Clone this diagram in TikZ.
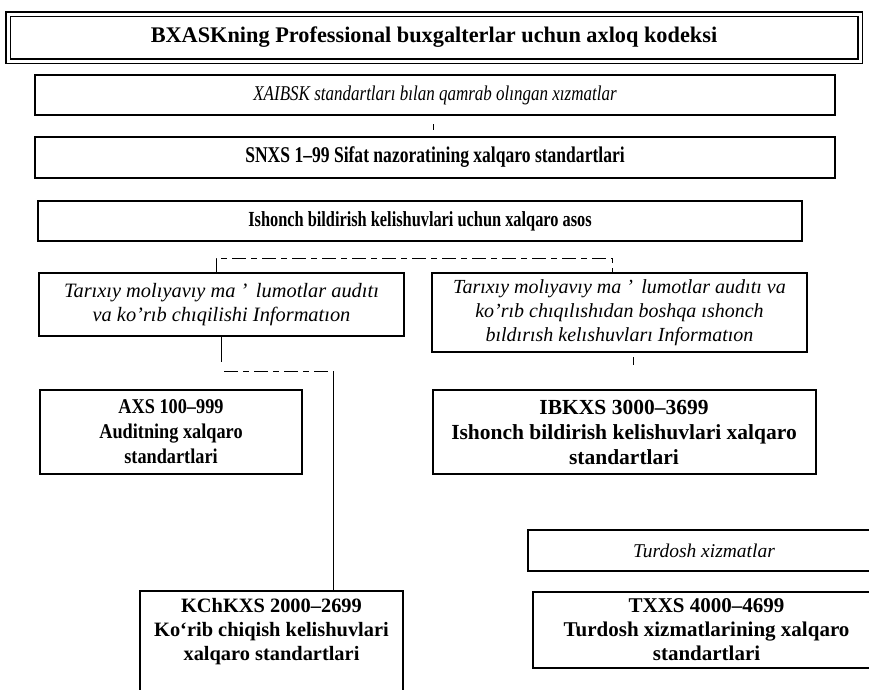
\documentclass[tikz,border=0pt]{standalone}
\usepackage{fontspec}
\setmainfont{Liberation Serif}
\newfontfamily\ftwo{Liberation Serif}[FakeStretch=0.81]
\newfontfamily\fthree{Liberation Serif}[FakeStretch=0.78]
\newfontfamily\ffour{Liberation Serif}[FakeStretch=0.76]
\newfontfamily\faxs{Liberation Serif}[FakeStretch=0.87]
\begin{document}
\begin{tikzpicture}[x=1pt,y=-1pt,
  box/.style={draw, line width=2pt, inner sep=0pt, align=center, rectangle},
  conn/.style={line width=0.9pt},
  faint/.style={line width=0.8pt, dash pattern=on 14pt off 5pt on 6pt off 5pt}]
\useasboundingbox (0,0) rectangle (869,689);

\node[box, double, double distance=3pt, line width=1.4pt, minimum width=852pt, minimum height=47pt,
  font=\fontsize{22.3}{26}\selectfont\bfseries] (b1) at (434,37.5)
  {BXASKning Professional buxgalterlar uchun axloq kodeksi};
\node[box, minimum width=800pt, minimum height=40pt,
  font=\fontsize{21}{24}\ftwo\itshape] (b2) at (435,95)
  {XAIBSK standartları bılan qamrab olıngan xızmatlar};
\node[box, minimum width=800pt, minimum height=41pt,
  font=\fontsize{22.5}{24}\fthree\bfseries] (b3) at (435,157.5)
  {SNXS 1–99 Sifat nazoratining xalqaro standartlari};
\node[box, minimum width=764pt, minimum height=40pt,
  font=\fontsize{21.5}{24}\ffour\bfseries] (b4) at (420,221)
  {Ishonch bildirish kelishuvlari uchun xalqaro asos};
\node[box, minimum width=365pt, minimum height=63pt,
  font=\fontsize{20.4}{24.5}\selectfont\itshape] (b5) at (221.5,304.5)
  {Tarıxıy molıyavıy ma ’\, lumotlar audıtı\\va ko’rıb chıqilishi Informatıon};
\node[box, minimum width=375pt, minimum height=79pt,
  font=\fontsize{20}{24}\selectfont\itshape] (b6) at (619.5,312.5)
  {Tarıxıy molıyavıy ma ’\, lumotlar audıtı va\\ko’rıb chıqılıshıdan boshqa ıshonch\\bıldırısh kelıshuvları Informatıon};
\node[box, minimum width=262pt, minimum height=84pt,
  font=\fontsize{21}{25}\faxs\bfseries] (axs) at (171,432)
  {AXS 100–999\\Auditning xalqaro\\standartlari};
\node[box, minimum width=383pt, minimum height=84pt,
  font=\fontsize{21.5}{25}\selectfont\bfseries] (ibk) at (624,432)
  {IBKXS 3000–3699\\Ishonch bildirish kelishuvlari xalqaro\\standartlari};
\node[box, minimum width=352pt, minimum height=41pt,
  font=\fontsize{19.5}{24}\selectfont\itshape] (tur) at (704,550.5)
  {Turdosh xizmatlar};
\node[box, minimum width=263pt, minimum height=110pt, anchor=north] (kch) at (271.5,590) {};
\node[align=center, inner sep=0pt, anchor=north,
  font=\fontsize{20.4}{24}\selectfont\bfseries] (kcht) at ([yshift=-8pt]kch.north)
  {KChKXS 2000–2699\\Ko‘rib chiqish kelishuvlari\\xalqaro standartlari};
\node[box, minimum width=347pt, minimum height=76pt,
  font=\fontsize{21}{24}\selectfont\bfseries] (txx) at (706.5,630)
  {TXXS 4000–4699\\Turdosh xizmatlarining xalqaro\\standartlari};

% bracket above the two italic boxes
\coordinate (bl) at (216,258);
\coordinate (br) at (612,258);
\draw[faint] (bl |- b5.north) -- (bl) -- (br) -- (br |- b6.north);

% connector from left italic box to KChKXS
\coordinate (j1) at (224,371);
\coordinate (j2) at (333,371);
\draw[conn] (b5.south) -- ++(0,25);
\draw[faint] (j1) -- (j2);
\draw[conn] (j2) -- (j2 |- kch.north);

% small remnant ticks
\path (b2.south) ++(-2,8) coordinate (t1);
\draw[conn] (t1) -- ++(0,6);
\coordinate (t2) at (633,357);
\draw[conn] (t2) -- ++(0,8);
\end{tikzpicture}
\end{document}
